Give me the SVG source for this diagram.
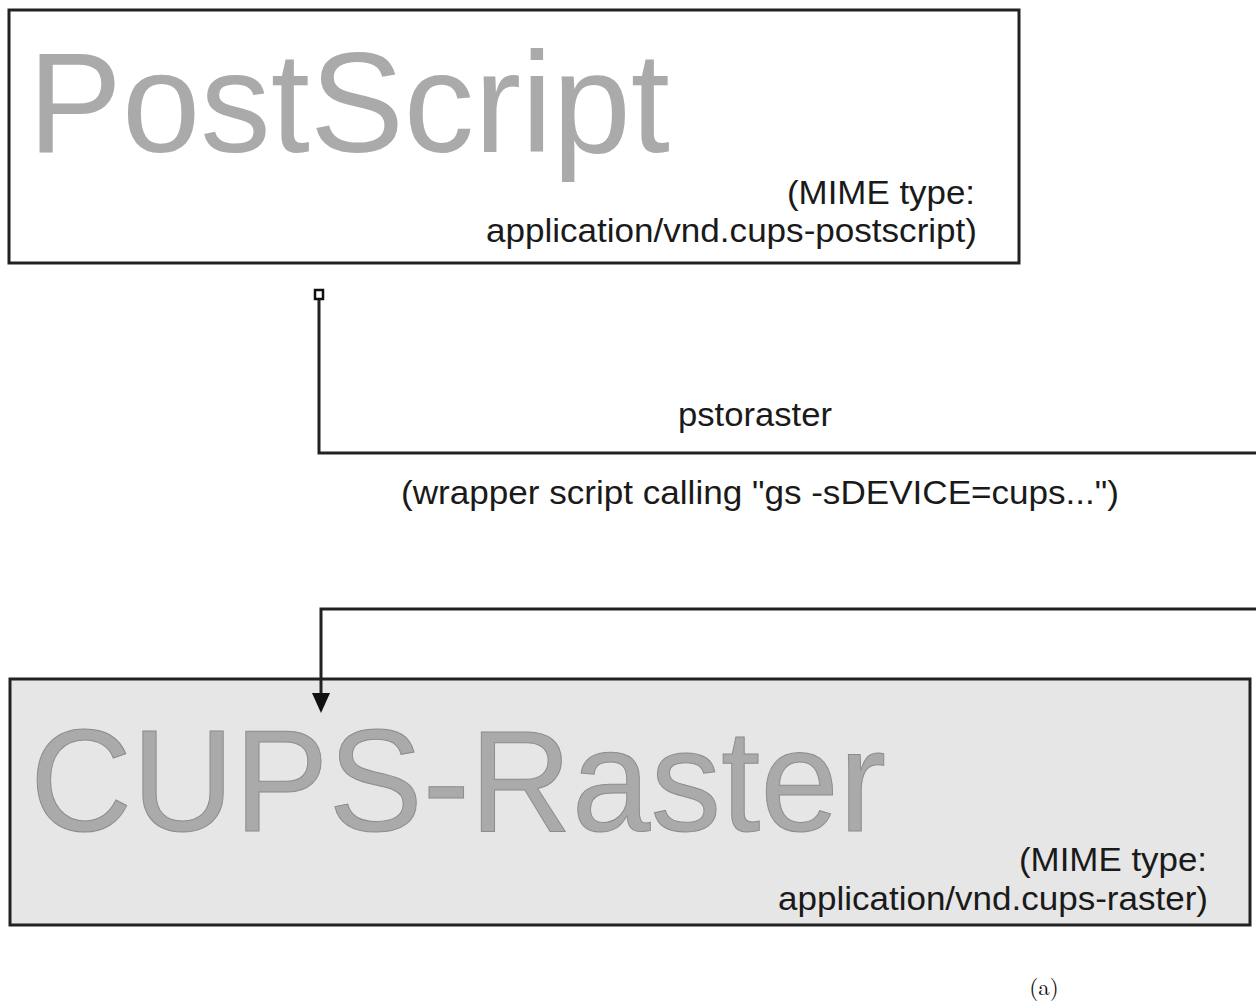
<svg xmlns="http://www.w3.org/2000/svg" width="1256" height="1001" viewBox="0 0 1256 1001">
<style>
.box{stroke:#222;stroke-width:3}
.big{font-family:"Liberation Sans",Arial,sans-serif;font-size:142px;fill:#aaaaaa}
.big2{font-family:"Liberation Sans",Arial,sans-serif;font-size:144px;fill:#aaaaaa;stroke:#8c8c8c;stroke-width:1}
.lbl{font-family:"Liberation Sans",Arial,sans-serif;font-size:34px;fill:#1a1a1a}
.conn{fill:none;stroke:#222;stroke-width:3}
</style>
<rect width="1256" height="1001" fill="#fff"/>
<g id="postscript">
<rect class="box" x="9" y="10" width="1010" height="253" fill="#fff"/>
<text class="big" x="28" y="152" textLength="642" lengthAdjust="spacingAndGlyphs">PostScript</text>
<text class="lbl" x="787" y="204" textLength="188" lengthAdjust="spacingAndGlyphs">(MIME type:</text>
<text class="lbl" x="486" y="242" textLength="491" lengthAdjust="spacingAndGlyphs">application/vnd.cups-postscript)</text>
</g>
<g id="cups-raster">
<rect class="box" x="10" y="679" width="1240" height="246" fill="#e6e6e6"/>
<text class="big2" x="30" y="831" textLength="856" lengthAdjust="spacingAndGlyphs">CUPS-Raster</text>
<text class="lbl" x="1019" y="871" textLength="188" lengthAdjust="spacingAndGlyphs">(MIME type:</text>
<text class="lbl" x="778" y="910" textLength="430" lengthAdjust="spacingAndGlyphs">application/vnd.cups-raster)</text>
</g>
<g id="connectors">
<rect x="315" y="290" width="8" height="9" fill="#fff" stroke="#111" stroke-width="2.5"/>
<path class="conn" d="M319,300 V453 H1256"/>
<path class="conn" d="M1256,609 H321 V696"/>
<polygon points="312,693 330,693 321,713" fill="#111"/>
<text class="lbl" x="678" y="426" textLength="154" lengthAdjust="spacingAndGlyphs">pstoraster</text>
<text class="lbl" x="401" y="504" textLength="718" lengthAdjust="spacingAndGlyphs">(wrapper script calling "gs -sDEVICE=cups...")</text>
</g>
<text x="1044" y="995" text-anchor="middle" font-family="'Latin Modern Roman','Liberation Serif',serif" font-size="23" fill="#111">(a)</text>
</svg>
